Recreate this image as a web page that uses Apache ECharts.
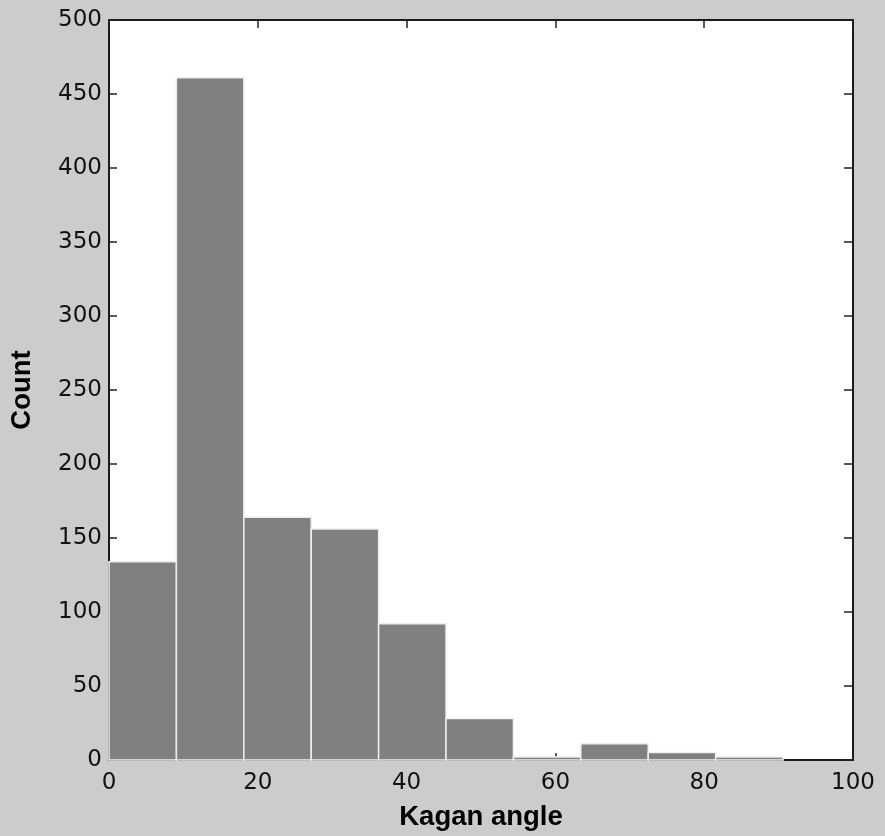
<!DOCTYPE html>
<html>
<head>
<meta charset="utf-8">
<script src="https://cdn.jsdelivr.net/npm/echarts@6/dist/echarts.min.js"></script>
<style>
  html, body { margin: 0; padding: 0; background: #cccccc; }
  #chart { width: 885px; height: 836px; }
</style>
</head>
<body>
<div id="chart"></div>
<script>
// histogram bins (Kagan angle, degrees)
var binEdges = [0, 9.06, 18.12, 27.18, 36.24, 45.3, 54.36, 63.42, 72.48, 81.54, 90.6];
var counts = [134, 461, 164, 156, 92, 28, 2, 11, 5, 2];
var xTicks = [0, 20, 40, 60, 80, 100];
var yTicks = [0, 50, 100, 150, 200, 250, 300, 350, 400, 450, 500];

var tickFont = "DejaVu Sans";
var titleFont = "Liberation Sans";

var data = [];
for (var i = 0; i < counts.length; i++) {
  data.push([binEdges[i], binEdges[i + 1], counts[i]]);
}

var chart = echarts.init(document.getElementById("chart"));

var tickStyle = { color: "#222", width: 1.5 };

var option = {
  backgroundColor: "#cccccc",
  animation: false,
  grid: {
    left: 108,
    right: 32,
    top: 20,
    bottom: 74,
    show: true,
    backgroundColor: "#ffffff",
    borderColor: "#1a1a1a",
    borderWidth: 2
  },
  xAxis: [
    {
      type: "value",
      position: "bottom",
      min: xTicks[0],
      max: xTicks[xTicks.length - 1],
      interval: 20,
      axisLine: { show: false, onZero: false },
      axisTick: { inside: true, length: 7, lineStyle: tickStyle },
      splitLine: { show: false },
      axisLabel: {
        fontFamily: tickFont,
        fontSize: 23,
        color: "#111",
        margin: 12
      },
      name: "Kagan angle",
      nameLocation: "middle",
      nameGap: 43,
      nameTextStyle: {
        fontFamily: titleFont,
        fontWeight: "bold",
        fontSize: 27.5,
        color: "#000"
      }
    },
    {
      type: "value",
      position: "top",
      min: xTicks[0],
      max: xTicks[xTicks.length - 1],
      interval: 20,
      axisLine: { show: false, onZero: false },
      axisTick: { inside: true, length: 8, lineStyle: tickStyle },
      axisLabel: { show: false },
      splitLine: { show: false }
    }
  ],
  yAxis: [
    {
      type: "value",
      position: "left",
      min: yTicks[0],
      max: yTicks[yTicks.length - 1],
      interval: 50,
      axisLine: { show: false, onZero: false },
      axisTick: { inside: true, length: 8, lineStyle: tickStyle },
      splitLine: { show: false },
      axisLabel: {
        fontFamily: tickFont,
        fontSize: 23,
        color: "#111",
        margin: 7
      },
      name: "Count",
      nameLocation: "middle",
      nameGap: 73,
      nameTextStyle: {
        fontFamily: titleFont,
        fontWeight: "bold",
        fontSize: 27.5,
        color: "#000"
      }
    },
    {
      type: "value",
      position: "right",
      min: yTicks[0],
      max: yTicks[yTicks.length - 1],
      interval: 50,
      axisLine: { show: false, onZero: false },
      axisTick: { inside: true, length: 9, lineStyle: tickStyle },
      axisLabel: { show: false },
      splitLine: { show: false }
    }
  ],
  series: [
    {
      type: "custom",
      xAxisIndex: 0,
      yAxisIndex: 0,
      encode: { x: [0, 1], y: 2 },
      data: data,
      renderItem: function (params, api) {
        var topLeft = api.coord([api.value(0), api.value(2)]);
        var bottomRight = api.coord([api.value(1), 0]);
        return {
          type: "rect",
          shape: {
            x: topLeft[0],
            y: topLeft[1],
            width: bottomRight[0] - topLeft[0],
            height: bottomRight[1] - topLeft[1]
          },
          style: {
            fill: "#808080",
            stroke: "#eeeeee",
            lineWidth: 1.5
          }
        };
      }
    }
  ]
};

chart.setOption(option);
</script>
</body>
</html>
